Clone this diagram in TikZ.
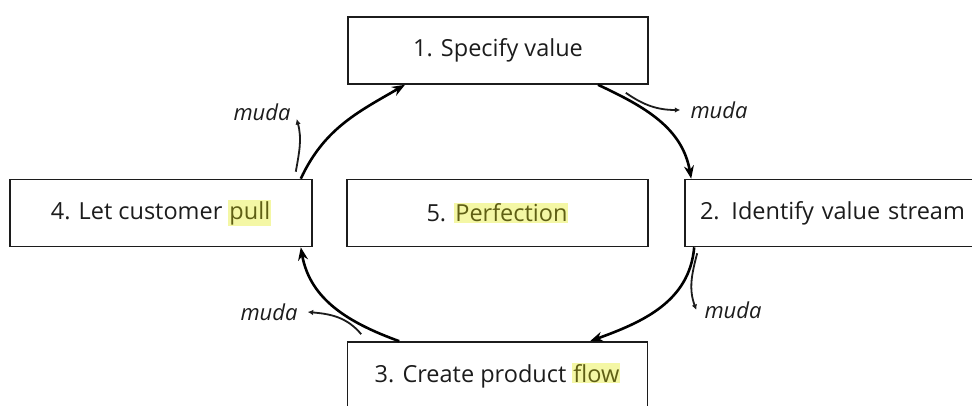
\documentclass[tikz,border=0pt]{standalone}
\usepackage{fontspec}
\setmainfont{Open Sans}
\newfontfamily\stagefont{Open Sans}
\usetikzlibrary{arrows.meta}
\definecolor{ink}{HTML}{1c1c1c}
\definecolor{hltext}{RGB}{95,95,20}
\definecolor{hlbg}{RGB}{244,247,165}
\newcommand{\hlword}[1]{{\setlength{\fboxsep}{1pt}\colorbox{hlbg}{\textcolor{hltext}{#1}}}}
\begin{document}
\begin{tikzpicture}[x=1pt,y=1pt,
  stagebox/.style={draw=ink, line width=1.6pt, minimum width=300pt, minimum height=67pt, inner sep=0pt, font=\stagefont\fontsize{23.5}{27}\selectfont, text=ink},
  cyc/.style={line width=2.6pt, draw=black, -{Stealth[length=13pt,width=10pt]}},
  mudaarrow/.style={line width=1.8pt, draw=ink, -{Latex[length=5.5pt,width=5.5pt]}},
  mudalabel/.style={font=\fontsize{22}{26}\selectfont\itshape, text=ink, inner sep=0pt}]
\useasboundingbox (0,0) rectangle (972,406);
\fill[white] (0,0) rectangle (972,406);
\clip (0,0) rectangle (972,406);
% stages
\node[stagebox] (b1) at (498,355.5) {1. Specify value};
\node[stagebox, text width=296pt, align=left] (b2) at (835,193) {\hspace*{13pt}2. Identify value stream};
\node[stagebox] (b3) at (497.5,30.5) {3. Create product \hlword{flow}};
\node[stagebox, minimum width=302pt] (b4) at (161,193) {4. Let customer \hlword{pull}};
\node[stagebox, minimum width=301pt] (b5) at (497.5,193) {5. \hlword{Perfection}};
% cycle arrows
\draw[cyc] ([xshift=-12pt]b4.north east) to[out=65,in=210] ([xshift=-93pt]b1.south);
\draw[cyc] ([xshift=100pt]b1.south) to[out=-25,in=100] ([xshift=7pt]b2.north west);
\draw[cyc] ([xshift=10pt]b2.south west) to[out=-95,in=20] ([xshift=92.5pt]b3.north);
\draw[cyc] ([xshift=52.5pt]b3.north west) to[out=160,in=-80] ([xshift=-12pt]b4.south east);
% muda labels
\node[mudalabel] (m1) at (262,294) {muda};
\node[mudalabel] (m2) at (719,296) {muda};
\node[mudalabel] (m3) at (733,96) {muda};
\node[mudalabel] (m4) at (269,94) {muda};
% muda arrows
\draw[mudaarrow] ([shift={(-17pt,7pt)}]b4.north east) to[out=80,in=-75] ([shift={(6pt,-7pt)}]m1.east);
\draw[mudaarrow] ([shift={(-23pt,-8pt)}]b1.south east) to[out=-35,in=180] ([xshift=-10pt]m2.west);
\draw[mudaarrow] ([shift={(13pt,-6pt)}]b2.south west) to[out=-105,in=110] ([xshift=-8pt]m3.west);
\draw[mudaarrow] ([shift={(14.5pt,7pt)}]b3.north west) to[out=130,in=-5] ([xshift=10pt]m4.east);
\end{tikzpicture}
\end{document}
